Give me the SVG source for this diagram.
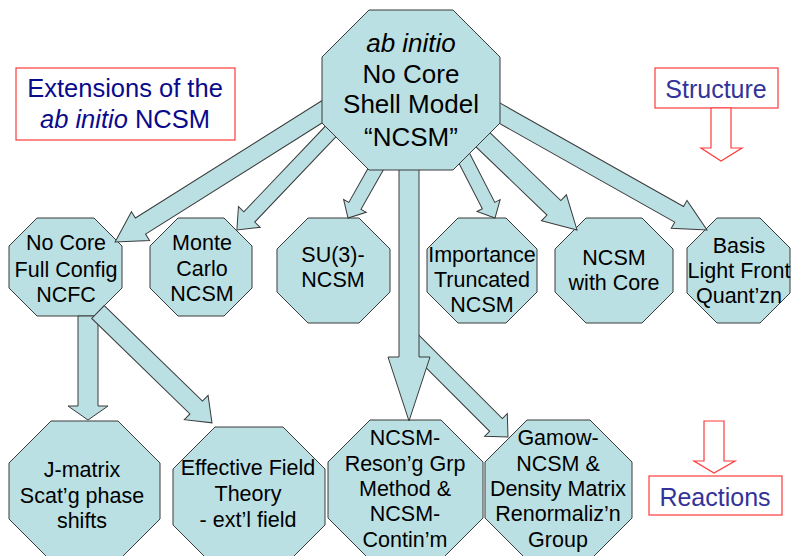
<svg xmlns="http://www.w3.org/2000/svg" width="793" height="556" viewBox="0 0 793 556">
<style>
.oct{fill:#bbe0e3;stroke:#3a3a3a;stroke-width:1}
.arr{fill:#bbe0e3;stroke:#3a3a3a;stroke-width:1;stroke-linejoin:miter}
.t{font-family:"Liberation Sans",Arial,sans-serif;font-size:21.5px;fill:#000;text-anchor:middle}
.tt{font-family:"Liberation Sans",Arial,sans-serif;font-size:26px;fill:#000;text-anchor:middle}
.lbl{fill:#fff;stroke:#ff3b3b;stroke-width:1.2}
.rarr{fill:#fff;stroke:#ff3b3b;stroke-width:1.2}
.bt{font-family:"Liberation Sans",Arial,sans-serif;font-size:25px;fill:#333399;text-anchor:middle}
.nt{font-family:"Liberation Sans",Arial,sans-serif;font-size:25.5px;fill:#0a0a8c;text-anchor:middle}
</style>
<rect width="793" height="556" fill="#fff"/>

<g id="label-extensions">
<rect class="lbl" x="16" y="68" width="219" height="72"/>
<text class="nt" x="125" y="97">Extensions of the</text>
<text class="nt" x="125" y="128"><tspan font-style="italic">ab initio</tspan> NCSM</text>
</g>

<g id="label-structure">
<rect class="lbl" x="655" y="68" width="123" height="40"/>
<text class="bt" x="716" y="98">Structure</text>
<path class="rarr" d="M711,108 H731 V148 H742 L721,161 L701,148 H711 Z"/>
</g>

<g id="label-reactions">
<path class="rarr" d="M704,421 H724 V461 H735 L714,473 L694,461 H704 Z"/>
<rect class="lbl" x="649" y="476" width="133" height="39"/>
<text class="bt" x="715" y="506">Reactions</text>
</g>

<g id="node-jmatrix">
<path class="oct" d="M51,421 H118 L160,463 V519 L118,561 H51 L9,519 V463 Z"/>
<text class="t" x="82" y="477">J-matrix</text>
<text class="t" x="82" y="503">Scat’g phase</text>
<text class="t" x="82" y="528">shifts</text>
</g>

<g id="node-eft">
<path class="oct" d="M215,427 H283 L325,469 V525 L283,567 H215 L173,525 V469 Z"/>
<text class="t" x="248" y="475">Effective Field</text>
<text class="t" x="248" y="501">Theory</text>
<text class="t" x="248" y="527">- ext’l field</text>
</g>

<g id="node-ncsm-rgm">
<path class="oct" d="M370,420 H441 L483,462 V518 L441,560 H370 L328,518 V462 Z"/>
<text class="t" x="405" y="445">NCSM-</text>
<text class="t" x="405" y="471">Reson’g Grp</text>
<text class="t" x="405" y="496">Method &amp;</text>
<text class="t" x="405" y="521">NCSM-</text>
<text class="t" x="405" y="547">Contin’m</text>
</g>

<g id="node-gamow">
<path class="oct" d="M527,420 H590 L632,462 V518 L590,560 H527 L485,518 V462 Z"/>
<text class="t" x="558" y="445">Gamow-</text>
<text class="t" x="558" y="471">NCSM &amp;</text>
<text class="t" x="558" y="496">Density Matrix</text>
<text class="t" x="558" y="521">Renormaliz’n</text>
<text class="t" x="558" y="547">Group</text>
</g>

<g id="node-ncfc">
<path class="oct" d="M37,218 H94 L122,246 V288 L94,316 H37 L9,288 V246 Z"/>
<text class="t" x="66" y="250">No Core</text>
<text class="t" x="66" y="277">Full Config</text>
<text class="t" x="66" y="302">NCFC</text>
</g>

<g id="node-montecarlo">
<path class="oct" d="M178,218 H224 L252,246 V288 L224,316 H178 L150,288 V246 Z"/>
<text class="t" x="202" y="250">Monte</text>
<text class="t" x="202" y="276">Carlo</text>
<text class="t" x="202" y="301">NCSM</text>
</g>

<g id="node-su3">
<path class="oct" d="M308,218 H359 L390,249 V292 L359,323 H308 L277,292 V249 Z"/>
<text class="t" x="333" y="262">SU(3)-</text>
<text class="t" x="333" y="287">NCSM</text>
</g>

<g id="node-importance">
<path class="oct" d="M458,218 H506 L537,249 V292 L506,323 H458 L427,292 V249 Z"/>
<text class="t" x="482" y="262">Importance</text>
<text class="t" x="482" y="287">Truncated</text>
<text class="t" x="482" y="312">NCSM</text>
</g>

<g id="node-withcore">
<path class="oct" d="M586,218 H642 L673,249 V292 L642,323 H586 L555,292 V249 Z"/>
<text class="t" x="614" y="265">NCSM</text>
<text class="t" x="614" y="290">with Core</text>
</g>

<g id="node-lightfront">
<path class="oct" d="M717,218 H760 L790,248 V293 L760,323 H717 L687,293 V248 Z"/>
<text class="t" x="739" y="253">Basis</text>
<text class="t" x="739" y="278">Light Front</text>
<text class="t" x="739" y="303">Quant’zn</text>
</g>

<g id="connectors">
<path class="arr" d="M0,-9.5 H221.6 V-17 L251.6,0 L221.6,17 V9.5 H0 Z" transform="translate(328,108) rotate(147.8)"/>
<path class="arr" d="M0,-7.5 H122.8 V-15 L140.8,0 L122.8,15 V7.5 H0 Z" transform="translate(334,128) rotate(133.6)"/>
<path class="arr" d="M0,-7 H55 V-13 L69,0 L55,13 V7 H0 Z" transform="translate(382,158) rotate(119.5)"/>
<path class="arr" d="M0,-7 H62.5 V-13 L76.5,0 L62.5,13 V7 H0 Z" transform="translate(460,150) rotate(62.8)"/>
<path class="arr" d="M0,-10 H105.2 V-18 L137.2,0 L105.2,18 V10 H0 Z" transform="translate(478,135) rotate(43.8)"/>
<path class="arr" d="M0,-9 H212.5 V-16 L244.5,0 L212.5,16 V9 H0 Z" transform="translate(494,110) rotate(29.4)"/>
<path class="arr" d="M0,-9 H123 V-16 L140,0 L123,16 V9 H0 Z" transform="translate(409,338) rotate(45)"/>
<path class="arr" d="M399,160 H419 V357 H430 L409,421 L388,357 H399 Z"/>
<path class="arr" d="M78,316 H98 V406 H108 L88,420 L68,406 H78 Z"/>
<path class="arr" d="M0,-9 H137 V-17 L159,0 L137,17 V9 H0 Z" transform="translate(98,312) rotate(44.2)"/>
</g>

<g id="node-ncsm">
<path class="oct" d="M369,10 H453 L500,57 V123 L453,170 H369 L322,123 V57 Z"/>
<text class="tt" x="411" y="52" font-style="italic">ab initio</text>
<text class="tt" x="411" y="83">No Core</text>
<text class="tt" x="411" y="113">Shell Model</text>
<text class="tt" x="411" y="146">“NCSM”</text>
</g>
</svg>
